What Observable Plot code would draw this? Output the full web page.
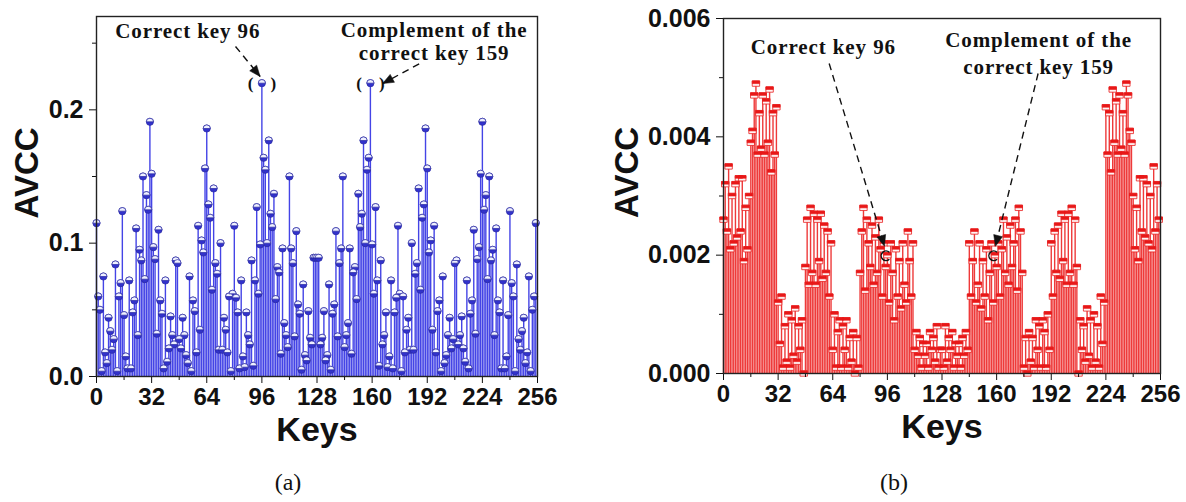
<!DOCTYPE html>
<html><head><meta charset="utf-8">
<script src="https://cdn.jsdelivr.net/npm/d3@7"></script>
<script src="https://cdn.jsdelivr.net/npm/@observablehq/plot@0.6"></script>
<style>
body{margin:0;background:#fff;}
#wrap{position:relative;width:1186px;height:502px;overflow:hidden;background:#fff;}
.panel{position:absolute;top:0;}
.cap{position:absolute;font-family:"Liberation Serif",serif;font-size:24px;color:#111;transform:translateX(-50%);}
</style></head><body>
<div id="wrap">
<div id="pa" class="panel" style="left:0"></div>
<div id="pb" class="panel" style="left:600px"></div>
<div class="cap" style="left:288px;top:469px">(a)</div>
<div class="cap" style="left:894px;top:469px">(b)</div>
</div>
<script>
// ---- data: panel (a), keys 0..127 and 128..255
const avccA_low = [
0.115,0.060,0.050,0.004,0.075,0.018,0.010,0.044,0.034,0.020,
0.028,0.084,0.004,0.060,0.070,0.124,0.046,0.015,0.006,0.072,
0.006,0.048,0.057,0.111,0.031,0.095,0.087,0.150,0.073,0.136,
0.125,0.191,0.152,0.097,0.088,0.032,0.110,0.057,0.047,0.006,
0.072,0.011,0.021,0.045,0.031,0.024,0.087,0.085,0.028,0.021,
0.044,0.031,0.016,0.010,0.075,0.004,0.057,0.049,0.018,0.113,
0.035,0.102,0.093,0.156,0.186,0.129,0.119,0.065,0.141,0.085,
0.077,0.020,0.100,0.020,0.044,0.035,0.018,0.060,0.004,0.062,
0.113,0.059,0.048,0.006,0.072,0.015,0.007,0.048,0.031,0.024,
0.087,0.008,0.072,0.127,0.062,0.099,0.220,0.164,0.155,0.100,
0.177,0.122,0.112,0.137,0.058,0.082,0.078,0.017,0.096,0.040,
0.031,0.022,0.150,0.096,0.085,0.030,0.109,0.054,0.047,0.005,
0.069,0.016,0.012,0.049,0.029,0.024,0.089,0.089];
const avccA_high = [
0.089,0.089,0.024,0.029,0.049,0.012,0.016,0.069,
0.005,0.047,0.054,0.109,0.030,0.085,0.096,0.150,0.022,0.031,
0.040,0.096,0.017,0.078,0.082,0.058,0.137,0.112,0.122,0.177,
0.100,0.155,0.164,0.220,0.099,0.062,0.127,0.072,0.008,0.087,
0.024,0.031,0.048,0.007,0.015,0.072,0.006,0.048,0.059,0.113,
0.062,0.004,0.060,0.018,0.035,0.044,0.020,0.100,0.020,0.077,
0.085,0.141,0.065,0.119,0.129,0.186,0.156,0.093,0.102,0.035,
0.113,0.018,0.049,0.057,0.004,0.075,0.010,0.016,0.031,0.044,
0.021,0.028,0.085,0.087,0.024,0.031,0.045,0.021,0.011,0.072,
0.006,0.047,0.057,0.110,0.032,0.088,0.097,0.152,0.191,0.125,
0.136,0.073,0.150,0.087,0.095,0.031,0.111,0.057,0.048,0.006,
0.072,0.006,0.015,0.046,0.124,0.070,0.060,0.004,0.084,0.028,
0.020,0.034,0.044,0.010,0.018,0.075,0.004,0.050,0.060,0.115];

// ---- data: panel (b), keys 0..127 and 128..255
const avccB_low = [
0.0026,0.0032,0.0024,0.0035,0.0021,0.0030,0.0022,0.0032,0.0023,0.0033,0.0024,0.0033,0.0019,0.0028,0.0021,0.0030,
0.0039,0.0041,0.0047,0.0049,0.0037,0.0044,0.0038,0.0047,0.0037,0.0046,0.0039,0.0048,0.0034,0.0044,0.0037,0.0045,
0.0012,0.0005,0.0013,0.0001,0.0008,0.0002,0.0010,0.0001,0.0009,0.0003,0.0011,0.0002,0.0008,0.0004,0.0009,0.0000,
0.0018,0.0026,0.0015,0.0028,0.0017,0.0027,0.0015,0.0026,0.0019,0.0027,0.0016,0.0025,0.0017,0.0024,0.0013,0.0022,
0.0004,0.0010,0.0001,0.0007,0.0009,0.0001,0.0008,0.0004,0.0009,0.0001,0.0006,0.0002,0.0007,0.0000,0.0006,0.0001,
0.0017,0.0024,0.0028,0.0014,0.0026,0.0022,0.0018,0.0025,0.0015,0.0023,0.0017,0.0026,0.0021,0.0013,0.0022,0.0018,
0.0020,0.0012,0.0022,0.0017,0.0009,0.0021,0.0013,0.0019,0.0011,0.0022,0.0015,0.0012,0.0024,0.0019,0.0013,0.0022,
0.0004,0.0007,0.0003,0.0006,0.0001,0.0005,0.0003,0.0005,0.0001,0.0007,0.0004,0.0006,0.0002,0.0008,0.0001,0.0004];
const avccB_high = [
0.0004,0.0001,0.0008,0.0002,0.0006,0.0004,0.0007,0.0001,0.0005,0.0003,0.0005,0.0001,0.0006,0.0003,0.0007,0.0004,
0.0022,0.0013,0.0019,0.0024,0.0012,0.0015,0.0022,0.0011,0.0019,0.0013,0.0021,0.0009,0.0017,0.0022,0.0012,0.0020,
0.0018,0.0022,0.0013,0.0021,0.0026,0.0017,0.0023,0.0015,0.0025,0.0018,0.0022,0.0026,0.0014,0.0028,0.0024,0.0017,
0.0001,0.0006,0.0000,0.0007,0.0002,0.0006,0.0001,0.0009,0.0004,0.0008,0.0001,0.0009,0.0007,0.0001,0.0010,0.0004,
0.0022,0.0013,0.0024,0.0017,0.0025,0.0016,0.0027,0.0019,0.0026,0.0015,0.0027,0.0017,0.0028,0.0015,0.0026,0.0018,
0.0000,0.0009,0.0004,0.0008,0.0002,0.0011,0.0003,0.0009,0.0001,0.0010,0.0002,0.0008,0.0001,0.0013,0.0005,0.0012,
0.0045,0.0037,0.0044,0.0034,0.0048,0.0039,0.0046,0.0037,0.0047,0.0038,0.0044,0.0037,0.0049,0.0047,0.0041,0.0039,
0.0030,0.0021,0.0028,0.0019,0.0033,0.0024,0.0033,0.0023,0.0032,0.0022,0.0030,0.0021,0.0035,0.0024,0.0032,0.0026];

const xTicks = [0,32,64,96,128,160,192,224,256];
const xMinor = [16,48,80,112,144,176,208,240];
const yTicksA = [0,0.1,0.2];
const yMinorA = [0.05,0.15,0.25];
const yTicksB = [0,0.002,0.004,0.006];
const yMinorB = [0.001,0.003,0.005];
const keyLabel = "Keys", yLabel = "AVCC";

const avccA = avccA_low.concat(avccA_high);
const avccB = avccB_low.concat(avccB_high);
const dataA = avccA.map((v,k)=>({k,v}));
const dataB = avccB.map((v,k)=>({k,v}));

// ---- symbols
const halfTop = {draw(ctx,size){const r=Math.sqrt(size/Math.PI);ctx.moveTo(-r,0);ctx.arc(0,0,r,Math.PI,2*Math.PI);ctx.closePath();}};
const capRect = {draw(ctx){ctx.rect(-3.7,-2.7,7.4,5.4);}};
const capTop = {draw(ctx){ctx.rect(-3.7,-2.7,7.4,2.7);}};
const cArc = {draw(ctx,size){const r=Math.sqrt(size/Math.PI);ctx.moveTo(r*Math.cos(-0.8),r*Math.sin(-0.8));ctx.arc(0,0,r,-0.8,0.8,true);}};
const head = {draw(ctx){ctx.moveTo(0,0);ctx.lineTo(-4.5,11);ctx.lineTo(4.5,11);ctx.closePath();}};

function rot(a,kx,ky){const dx=(a.x2-a.x1)*kx, dy=-(a.y2-a.y1)*ky; return Math.atan2(dy,dx)*180/Math.PI+90;}

const serif = "Liberation Serif, Times New Roman, serif";
const sans = "Liberation Sans, Arial, sans-serif";

function panel(o){
  const {W,H,mL,mR,mT,mB,data,ymax,yTicks,yMinor,fmt,stems,notes,arrows,parens,cs,cap,labelDx} = o;
  const kx=(W-mL-mR)/256, ky=(H-mT-mB)/ymax;
  const arr = arrows.map(a=>({...a, r: rot(a,kx,ky)}));
  const marks = [
    Plot.ruleX(data,{x:"k",y1:()=>0,y2:"v",stroke:stems,strokeWidth:1.4}),
  ];
  if (cap==="circle"){
    marks.push(Plot.dot(data,{x:"k",y:"v",r:3.6,fill:"#3232cc",stroke:"#2828a0",strokeWidth:0.7}));
    marks.push(Plot.dot(data,{x:"k",y:"v",r:3.6,symbol:halfTop,fill:"#eef0ff",stroke:"#2828a0",strokeWidth:0.7}));
  } else {
    marks.push(Plot.dot(data,{x:"k",y:"v",r:3,symbol:capRect,fill:"#fff4f4",stroke:"#e82020",strokeWidth:0.8}));
    marks.push(Plot.dot(data,{x:"k",y:"v",r:3,symbol:capTop,fill:"#e81818",stroke:"#e81818",strokeWidth:0.6}));
  }
  marks.push(
    Plot.axisY(yTicks,{tickSize:7,tickPadding:6,tickFormat:d3.format(fmt),fontSize:25,fontWeight:"bold",label:null}),
    Plot.axisY(yMinor,{tickSize:4,tickFormat:()=>"",label:null}),
    Plot.axisX(xTicks,{tickSize:7,tickPadding:4,fontSize:24,fontWeight:"bold",label:null}),
    Plot.axisX(xMinor,{tickSize:4,tickFormat:()=>"",label:null}),
    Plot.frame({stroke:"#222",strokeWidth:1.4}),
    Plot.text([keyLabel],{text:d=>d,frameAnchor:"bottom",lineAnchor:"top",dy:40,fontSize:34,fontWeight:"bold"}),
    Plot.text([yLabel],{text:d=>d,frameAnchor:"left",rotate:-90,dx:labelDx,dy:22,fontSize:33,fontWeight:"bold"}),
    Plot.link(arr,{x1:"x1",y1:"y1",x2:"x2",y2:"y2",stroke:"#111",strokeWidth:1.4,strokeDasharray:"7,5"}),
    Plot.dot(arr,{x:"x2",y:"y2",r:4,symbol:head,rotate:"r",fill:"#111",stroke:"#111",strokeWidth:0.5}),
    Plot.text(notes,{x:"x",y:"y",text:"t",fontFamily:serif,fontWeight:"bold",fontSize:21,fill:"#111"})
  );
  if (parens.length) marks.push(Plot.text(parens,{x:"x",y:"y",text:()=>"(\u2003)",fontFamily:serif,fontWeight:"bold",fontSize:17,fill:"#111"}));
  if (cs.length) marks.push(Plot.dot(cs,{x:"x",y:"y",r:4.8,symbol:cArc,fill:"none",stroke:"#111",strokeWidth:1.5}));
  const svg = Plot.plot({
    width:W,height:H,marginLeft:mL,marginRight:mR,marginTop:mT,marginBottom:mB,
    x:{domain:[0,256]}, y:{domain:[0,ymax]},
    style:{fontFamily:sans,background:"transparent",color:"#111",overflow:"visible"},
    marks
  });
  const noteSet = new Set(notes.map(n=>n.t));
  d3.select(svg).selectAll("text").filter(function(){return noteSet.has(this.textContent);}).style("letter-spacing","0.9px");
  return svg;
}

document.getElementById("pa").append(panel({
  W:600,H:460,mL:96,mR:63,mT:16,mB:84,data:dataA,ymax:0.27,yTicks:yTicksA,yMinor:yMinorA,fmt:".1f",
  stems:"#4444e6",cap:"circle",labelDx:-69,
  notes:[{x:53,y:0.2587,t:"Correct key 96"},{x:196,y:0.2595,t:"Complement of the"},{x:196,y:0.2422,t:"correct key 159"}],
  arrows:[{x1:80.7,y1:0.2475,x2:95.0,y2:0.2250},{x1:187.3,y1:0.2345,x2:166.1,y2:0.2197}],
  parens:[{x:96,y:0.220},{x:159,y:0.220}],
  cs:[]
}));
document.getElementById("pb").append(panel({
  W:586,H:460,mL:123,mR:26,mT:18,mB:87,data:dataB,ymax:0.006,yTicks:yTicksB,yMinor:yMinorB,fmt:".3f",
  stems:"#ee3a3a",cap:"rect",labelDx:-96,
  notes:[{x:58.5,y:0.00552,t:"Correct key 96"},{x:184.6,y:0.00564,t:"Complement of the"},{x:184.6,y:0.00518,t:"correct key 159"}],
  arrows:[{x1:61.9,y1:0.00524,x2:94.3,y2:0.00215},{x1:184.3,y1:0.00507,x2:159.3,y2:0.00215}],
  parens:[],
  cs:[{x:95.2,y:0.00199},{x:158.3,y:0.00199}]
}));
</script>
</body></html>
